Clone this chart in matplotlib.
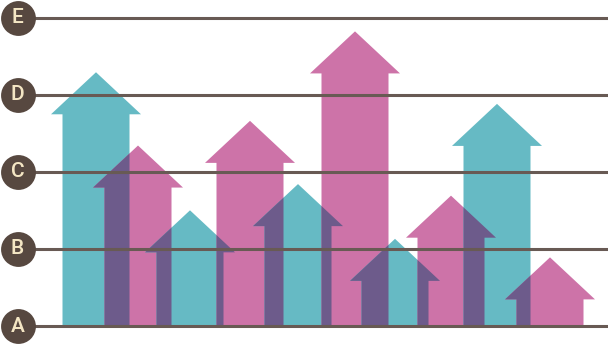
import matplotlib
matplotlib.use("Agg")
import matplotlib.pyplot as plt
from matplotlib.patches import Polygon

# ===== data =====
LEVELS = ["A", "B", "C", "D", "E"]
ARROW_X = [96, 138, 190, 250, 298, 355, 395, 451, 497, 550]
ARROW_TOP = [3.29, 2.34, 1.50, 2.66, 1.84, 3.82, 1.13, 1.69, 2.88, 0.89]

TEAL = "#66bac4"
PINK = "#cd73a8"
PURPLE = "#6d5b8b"
DARK = "#574840"
LINE = "#685a54"
CREAM = "#f4e6c4"

SHAFT_W = 67
HEAD_W = 90
HEAD_H = 0.545


def arrow_verts(xc, top):
    hs, hh = SHAFT_W / 2, HEAD_W / 2
    yb = top - HEAD_H
    return [
        (xc - hs, 0), (xc - hs, yb), (xc - hh, yb), (xc, top),
        (xc + hh, yb), (xc + hs, yb), (xc + hs, 0),
    ]


fig = plt.figure(figsize=(6.08, 3.44), dpi=100)
ax = fig.add_axes([0, 0, 1, 1])
ax.set_xlim(0, 608)
ax.set_ylim(-18 / 77.125, 326 / 77.125)
ax.axis("off")

# arrows
patches = []
for i, (xc, top) in enumerate(zip(ARROW_X, ARROW_TOP)):
    col = TEAL if i % 2 == 0 else PINK
    p = Polygon(arrow_verts(xc, top), closed=True, facecolor=col,
                edgecolor="none", zorder=2)
    ax.add_patch(p)
    patches.append(p)

# overlaps between neighbours in purple
for i in range(len(patches) - 1):
    ov = Polygon(arrow_verts(ARROW_X[i + 1], ARROW_TOP[i + 1]), closed=True,
                 facecolor=PURPLE, edgecolor="none", zorder=3)
    ax.add_patch(ov)
    ov.set_clip_path(patches[i])

# level lines + labels
for k, lab in enumerate(LEVELS):
    ax.plot([17, 608], [k, k], color=LINE, lw=2.2, zorder=4,
            solid_capstyle="butt")
    ax.scatter([17.5], [k], s=630, color=DARK, zorder=5, linewidths=0)
    ax.text(17.5, k, lab, color=CREAM, fontsize=15, fontweight="medium",
            family="Roboto", ha="center", va="center", zorder=6)

fig.savefig("out.png", dpi=100)
